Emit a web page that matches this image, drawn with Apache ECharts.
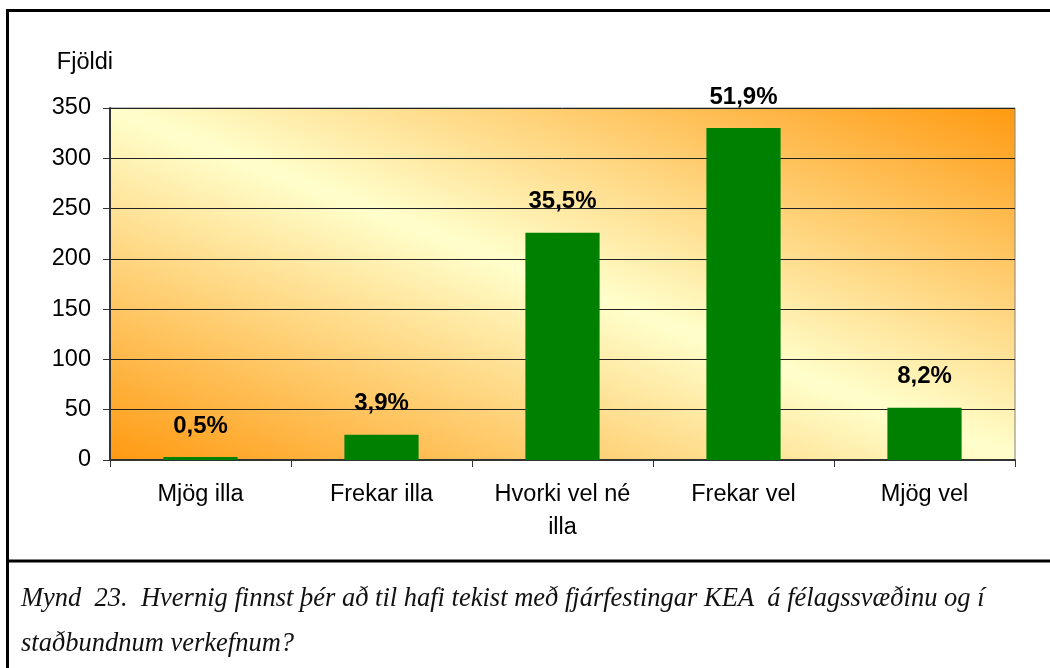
<!DOCTYPE html>
<html>
<head>
<meta charset="utf-8">
<script src="https://cdn.jsdelivr.net/npm/echarts@6/dist/echarts.min.js"></script>
<style>
  html, body { margin: 0; padding: 0; background: #fff; }
  #chart { width: 1050px; height: 668px; }
</style>
</head>
<body>
<div id="chart"></div>
<script>
var categories = ['Mjög illa', 'Frekar illa', 'Hvorki vel né\nilla', 'Frekar vel', 'Mjög vel']
var counts = [3, 25, 226, 330, 52]
var percents = ['0,5%', '3,9%', '35,5%', '51,9%', '8,2%']
var yTicks = { min: 0, max: 350, interval: 50 }
var captionLines = [
  'Mynd  23.  Hvernig finnst þér að til hafi tekist með fjárfestingar KEA  á félagssvæðinu og í',
  'staðbundnum verkefnum?'
]

var sans = 'Arial, "Liberation Sans", sans-serif'
var serifItalic = 'italic 26.5px "Liberation Serif", "Times New Roman", serif'
var myChart = echarts.init(document.getElementById('chart'))

myChart.setOption({
  animation: false,
  grid: {
    left: 110,
    top: 108,
    right: 35,
    bottom: 208,
    show: true,
    borderColor: '#808080',
    borderWidth: 1,
    // gradient vector perpendicular to the plot's top-left/bottom-right diagonal
    backgroundColor: new echarts.graphic.LinearGradient(0.369, 1.369, 0.631, -0.369, [
      { offset: 0, color: '#ff9910' },
      { offset: 0.5, color: '#ffffcc' },
      { offset: 1, color: '#ff9910' }
    ])
  },
  xAxis: {
    type: 'category',
    data: categories,
    axisLine: { lineStyle: { color: '#333', width: 2 } },
    axisTick: { show: true, length: 7, lineStyle: { color: '#333' } },
    axisLabel: {
      color: '#000',
      fontFamily: sans,
      fontSize: 23.5,
      lineHeight: 33,
      margin: 18,
      interval: 0
    }
  },
  yAxis: {
    type: 'value',
    min: yTicks.min,
    max: yTicks.max,
    interval: yTicks.interval,
    name: 'Fjöldi',
    nameLocation: 'end',
    nameGap: 45,
    nameTextStyle: {
      color: '#000', fontFamily: sans, fontSize: 23.5,
      align: 'right', verticalAlign: 'middle', padding: [0, -3, 0, 0]
    },
    axisLine: { show: true, lineStyle: { color: '#333', width: 2 } },
    axisTick: { show: true, length: 7, lineStyle: { color: '#333' } },
    axisLabel: { color: '#000', fontFamily: sans, fontSize: 23.5, margin: 19 },
    splitLine: { lineStyle: { color: '#222', width: 1 } }
  },
  series: [
    {
      type: 'bar',
      data: counts,
      barWidth: '41%',
      itemStyle: { color: '#008000' },
      label: {
        show: true,
        position: 'top',
        distance: 19,
        color: '#000',
        fontFamily: sans,
        fontSize: 24,
        fontWeight: 'bold',
        formatter: function(p) { return percents[p.dataIndex] }
      }
    }
  ],
  graphic: [
    // frame round the figure and its caption
    { type: 'line', shape: { x1: 7.5, y1: 9, x2: 7.5, y2: 668 }, style: { stroke: '#000', lineWidth: 3 } },
    { type: 'line', shape: { x1: 6, y1: 10.5, x2: 1050, y2: 10.5 }, style: { stroke: '#000', lineWidth: 3 } },
    { type: 'line', shape: { x1: 6, y1: 561, x2: 1050, y2: 561 }, style: { stroke: '#000', lineWidth: 3 } },
    {
      type: 'text', left: 21, top: 586,
      style: { text: captionLines[0], fill: '#111', font: serifItalic }
    },
    {
      type: 'text', left: 21, top: 631,
      style: { text: captionLines[1], fill: '#111', font: serifItalic }
    }
  ]
})
</script>
</body>
</html>
